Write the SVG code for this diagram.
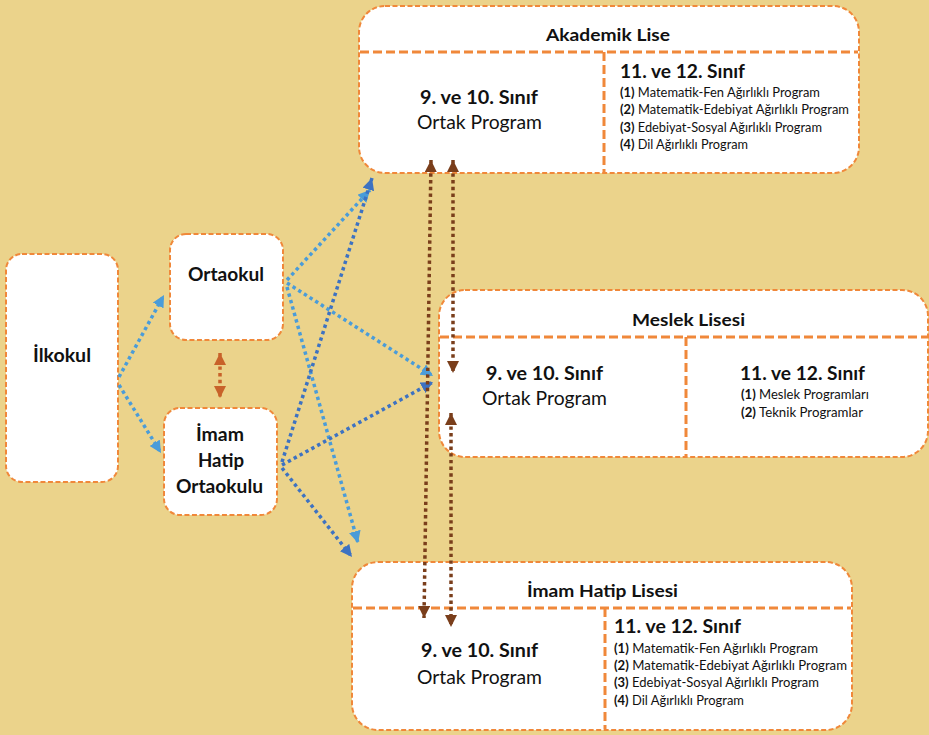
<svg xmlns="http://www.w3.org/2000/svg" width="929" height="735" viewBox="0 0 929 735">
<style>
.box{fill:#fff;stroke:#F0883A;stroke-width:2;stroke-dasharray:5 2.5}
.div{stroke:#F0883A;stroke-width:3;stroke-dasharray:9 4;fill:none}
text{font-family:Lato,"Open Sans","Liberation Sans",sans-serif;fill:#111}
.b{font-weight:700}
.t16{font-size:17.5px}
.t17{font-size:18px}
.t18{font-size:19px}
.t12{font-size:13px}
.lb{stroke:#4A9CD9;stroke-width:3.5;stroke-dasharray:3.4 3.3;fill:none;marker-end:url(#ahLB)}
.db{stroke:#3D72C2;stroke-width:3.5;stroke-dasharray:3.4 3.3;fill:none;marker-end:url(#ahDB)}
.br{stroke:#7A3E1B;stroke-width:3.5;stroke-dasharray:3.4 3.3;fill:none;marker-start:url(#ahBR);marker-end:url(#ahBR)}
.or{stroke:#C8622A;stroke-width:3.5;stroke-dasharray:3.4 3.3;fill:none;marker-start:url(#ahOR);marker-end:url(#ahOR)}
</style>
<defs>
<marker id="ahLB" markerUnits="userSpaceOnUse" markerWidth="12" markerHeight="12" viewBox="0 0 12 12" refX="12" refY="6" orient="auto"><path d="M0,0 L12,6 L0,12 z" fill="#4A9CD9"/></marker>
<marker id="ahDB" markerUnits="userSpaceOnUse" markerWidth="12" markerHeight="12" viewBox="0 0 12 12" refX="12" refY="6" orient="auto"><path d="M0,0 L12,6 L0,12 z" fill="#3D72C2"/></marker>
<marker id="ahBR" markerUnits="userSpaceOnUse" markerWidth="12" markerHeight="12" viewBox="0 0 12 12" refX="12" refY="6" orient="auto-start-reverse"><path d="M0,0 L12,6 L0,12 z" fill="#7A3E1B"/></marker>
<marker id="ahOR" markerUnits="userSpaceOnUse" markerWidth="12" markerHeight="12" viewBox="0 0 12 12" refX="12" refY="6" orient="auto-start-reverse"><path d="M0,0 L12,6 L0,12 z" fill="#C8622A"/></marker>
</defs>
<rect width="929" height="735" fill="#EBD38B"/>

<g id="ilkokul">
<rect class="box" x="6" y="254" width="112" height="228" rx="16"/>
<text class="b t17" x="62" y="362" text-anchor="middle" textLength="58" lengthAdjust="spacingAndGlyphs">İlkokul</text>
</g>

<g id="ortaokul">
<rect class="box" x="170" y="234" width="113" height="106" rx="16"/>
<text class="b t17" x="226" y="281" text-anchor="middle" textLength="76" lengthAdjust="spacingAndGlyphs">Ortaokul</text>
</g>

<g id="imam-hatip-ortaokulu">
<rect class="box" x="164" y="408" width="113" height="107" rx="16"/>
<text class="b t17" x="220" y="441" text-anchor="middle" textLength="48" lengthAdjust="spacingAndGlyphs">İmam</text>
<text class="b t17" x="221" y="467" text-anchor="middle" textLength="46" lengthAdjust="spacingAndGlyphs">Hatip</text>
<text class="b t17" x="219.5" y="493" text-anchor="middle" textLength="87" lengthAdjust="spacingAndGlyphs">Ortaokulu</text>
</g>

<g id="akademik-lise">
<rect class="box" x="359" y="6" width="500" height="167" rx="26"/>
<line class="div" x1="360" y1="52" x2="858" y2="52"/>
<line class="div" x1="604" y1="52" x2="604" y2="172"/>
<text class="b t16" x="608" y="41" text-anchor="middle" textLength="124" lengthAdjust="spacingAndGlyphs">Akademik Lise</text>
<text class="b t18" x="479" y="103.5" text-anchor="middle" textLength="118" lengthAdjust="spacingAndGlyphs">9. ve 10. Sınıf</text>
<text class="t18" x="479.5" y="129" text-anchor="middle" textLength="125" lengthAdjust="spacingAndGlyphs">Ortak Program</text>
<text class="b t18" x="620" y="78" textLength="125" lengthAdjust="spacingAndGlyphs">11. ve 12. Sınıf</text>
<text class="t12" x="620" y="97" textLength="200" lengthAdjust="spacingAndGlyphs"><tspan class="b">(1)</tspan> Matematik-Fen Ağırlıklı Program</text>
<text class="t12" x="620" y="114.3" textLength="229" lengthAdjust="spacingAndGlyphs"><tspan class="b">(2)</tspan> Matematik-Edebiyat Ağırlıklı Program</text>
<text class="t12" x="620" y="131.7" textLength="202" lengthAdjust="spacingAndGlyphs"><tspan class="b">(3)</tspan> Edebiyat-Sosyal Ağırlıklı Program</text>
<text class="t12" x="620" y="149" textLength="128" lengthAdjust="spacingAndGlyphs"><tspan class="b">(4)</tspan> Dil Ağırlıklı Program</text>
</g>

<g id="meslek-lisesi">
<rect class="box" x="439" y="290" width="489" height="167" rx="26"/>
<line class="div" x1="440" y1="337" x2="927" y2="337"/>
<line class="div" x1="686" y1="337" x2="686" y2="456"/>
<text class="b t16" x="688.5" y="325.5" text-anchor="middle" textLength="113" lengthAdjust="spacingAndGlyphs">Meslek Lisesi</text>
<text class="b t18" x="544.5" y="380" text-anchor="middle" textLength="117" lengthAdjust="spacingAndGlyphs">9. ve 10. Sınıf</text>
<text class="t18" x="544.5" y="404.5" text-anchor="middle" textLength="125" lengthAdjust="spacingAndGlyphs">Ortak Program</text>
<text class="b t18" x="802.5" y="380" text-anchor="middle" textLength="125" lengthAdjust="spacingAndGlyphs">11. ve 12. Sınıf</text>
<text class="t12" x="741" y="399" textLength="128" lengthAdjust="spacingAndGlyphs"><tspan class="b">(1)</tspan> Meslek Programları</text>
<text class="t12" x="741" y="417" textLength="122" lengthAdjust="spacingAndGlyphs"><tspan class="b">(2)</tspan> Teknik Programlar</text>
</g>

<g id="imam-hatip-lisesi">
<rect class="box" x="352" y="562" width="500" height="168" rx="26"/>
<line class="div" x1="353" y1="608" x2="851" y2="608"/>
<line class="div" x1="605" y1="608" x2="605" y2="729"/>
<text class="b t16" x="602.5" y="596.5" text-anchor="middle" textLength="151" lengthAdjust="spacingAndGlyphs">İmam Hatip Lisesi</text>
<text class="b t18" x="479.5" y="657" text-anchor="middle" textLength="117" lengthAdjust="spacingAndGlyphs">9. ve 10. Sınıf</text>
<text class="t18" x="479.5" y="683.5" text-anchor="middle" textLength="125" lengthAdjust="spacingAndGlyphs">Ortak Program</text>
<text class="b t18" x="614" y="633" textLength="127" lengthAdjust="spacingAndGlyphs">11. ve 12. Sınıf</text>
<text class="t12" x="614" y="652.5" textLength="204" lengthAdjust="spacingAndGlyphs"><tspan class="b">(1)</tspan> Matematik-Fen Ağırlıklı Program</text>
<text class="t12" x="614" y="670" textLength="233" lengthAdjust="spacingAndGlyphs"><tspan class="b">(2)</tspan> Matematik-Edebiyat Ağırlıklı Program</text>
<text class="t12" x="614" y="687" textLength="205" lengthAdjust="spacingAndGlyphs"><tspan class="b">(3)</tspan> Edebiyat-Sosyal Ağırlıklı Program</text>
<text class="t12" x="614" y="704.5" textLength="130" lengthAdjust="spacingAndGlyphs"><tspan class="b">(4)</tspan> Dil Ağırlıklı Program</text>
</g>

<g id="connectors">
<line class="lb" x1="119" y1="377" x2="164" y2="295"/>
<line class="lb" x1="119" y1="385" x2="161" y2="453"/>
<line class="lb" x1="287" y1="280" x2="370" y2="190"/>
<line class="lb" x1="287" y1="283" x2="433" y2="376"/>
<line class="lb" x1="287" y1="287" x2="358" y2="543"/>
<line class="db" x1="282" y1="462" x2="372" y2="178"/>
<line class="db" x1="282" y1="465" x2="433" y2="382"/>
<line class="db" x1="282" y1="468" x2="352" y2="557"/>
<line class="br" x1="431" y1="160" x2="424" y2="618"/>
<line class="br" x1="453" y1="160" x2="453" y2="373"/>
<line class="br" x1="451" y1="413" x2="451" y2="627"/>
<line class="or" x1="220" y1="353" x2="220" y2="398"/>
</g>
</svg>
